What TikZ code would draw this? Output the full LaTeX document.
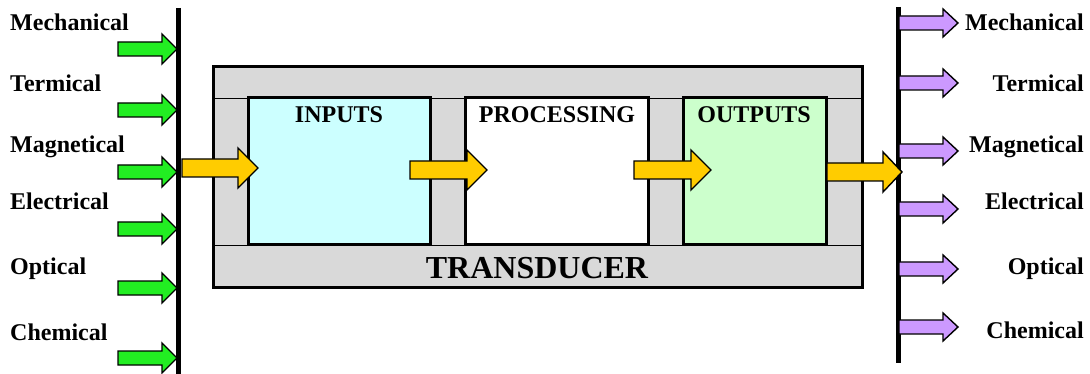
\documentclass[tikz,border=0pt]{standalone}
\usepackage{fontspec}
\setmainfont{Liberation Serif}
\definecolor{grn}{HTML}{22EE22}
\definecolor{prp}{HTML}{CC99FF}
\definecolor{org}{HTML}{FFCC00}
\definecolor{cyn}{HTML}{CCFFFF}
\definecolor{lgr}{HTML}{CCFFCC}
\definecolor{gry}{HTML}{D9D9D9}
\newcommand{\myblockarrow}[7]{%
  \draw[arrowshape, fill=#7] (#1,#3-#4) -- (#2-#6,#3-#4) -- (#2-#6,#3-#5) -- (#2,#3)
    -- (#2-#6,#3+#5) -- (#2-#6,#3+#4) -- (#1,#3+#4) -- cycle;}
\begin{document}
\begin{tikzpicture}[x=1pt,y=-1pt,
  lbl/.style={font=\fontsize{24}{28}\selectfont\bfseries, inner sep=0pt},
  big/.style={font=\fontsize{32}{36}\selectfont\bfseries, inner sep=0pt},
  box/.style={draw=black, line width=3pt, rectangle, inner sep=0pt, outer sep=0pt, anchor=north west},
  arrowshape/.style={draw=black, line width=1.4pt, line join=miter},
  bar/.style={line width=5pt, black}]
\useasboundingbox (0,0) rectangle (1090,374);
% transducer frame
\node[box, fill=gry, minimum width=649pt, minimum height=220pt] (transducer) at (213,67) {};
\node[box, fill=cyn, minimum width=182pt, minimum height=147pt] (inputs) at (248,98) {};
\node[box, fill=white, minimum width=183pt, minimum height=147pt] (processing) at (465,98) {};
\node[box, fill=lgr, minimum width=143pt, minimum height=147pt] (outputs) at (683,98) {};
\draw[line width=0.8pt] (transducer.west |- inputs.north) -- (transducer.east |- inputs.north);
\draw[line width=0.8pt] (transducer.west |- inputs.south) -- (transducer.east |- inputs.south);
\draw[box] (inputs.north west) rectangle (inputs.south east);
\draw[box] (processing.north west) rectangle (processing.south east);
\draw[box] (outputs.north west) rectangle (outputs.south east);
\node[lbl, anchor=base] (tin) at (339,123) {INPUTS};
\node[lbl, anchor=base] (tproc) at (557,123) {PROCESSING};
\node[lbl, anchor=base] (tout) at (754,123) {OUTPUTS};
\node[big, anchor=base] (ttr) at (537,278) {TRANSDUCER};
% vertical bars
\coordinate (ltop) at (178,8);
\coordinate (lbot) at (178,374);
\coordinate (rtop) at (898,7);
\coordinate (rbot) at (898,363);
\draw[bar] (ltop) -- (lbot);
\draw[bar] (rtop) -- (rbot);
% left labels
\node[lbl, anchor=base west] (lmech) at (10,31) {Mechanical};
\node[lbl, anchor=base west] (lterm) at (10,92) {Termical};
\node[lbl, anchor=base west] (lmagn) at (10,153) {Magnetical};
\node[lbl, anchor=base west] (lelec) at (10,210) {Electrical};
\node[lbl, anchor=base west] (lopt) at (10,275) {Optical};
\node[lbl, anchor=base west] (lchem) at (10,340) {Chemical};
% right labels
\node[lbl, anchor=base east] (rmech) at (1084,31) {Mechanical};
\node[lbl, anchor=base east] (rterm) at (1084,92) {Termical};
\node[lbl, anchor=base east] (rmagn) at (1084,153) {Magnetical};
\node[lbl, anchor=base east] (relec) at (1084,210) {Electrical};
\node[lbl, anchor=base east] (ropt) at (1084,274) {Optical};
\node[lbl, anchor=base east] (rchem) at (1084,338) {Chemical};
% green input arrows
\foreach \yy in {49,110,172,229,288,358} {\myblockarrow{118}{177}{\yy}{7}{15}{15}{grn}}
% purple output arrows
\foreach \yy in {23,83,151,209,269,327} {\myblockarrow{899}{958}{\yy}{7}{14}{15}{prp}}
% orange flow arrows
\myblockarrow{182}{258}{168}{9}{20}{20}{org}
\myblockarrow{410}{487}{170}{9}{20}{20}{org}
\myblockarrow{634}{711}{170}{9}{20}{20}{org}
\myblockarrow{827}{902}{172}{9}{20}{19}{org}
\end{tikzpicture}
\end{document}
